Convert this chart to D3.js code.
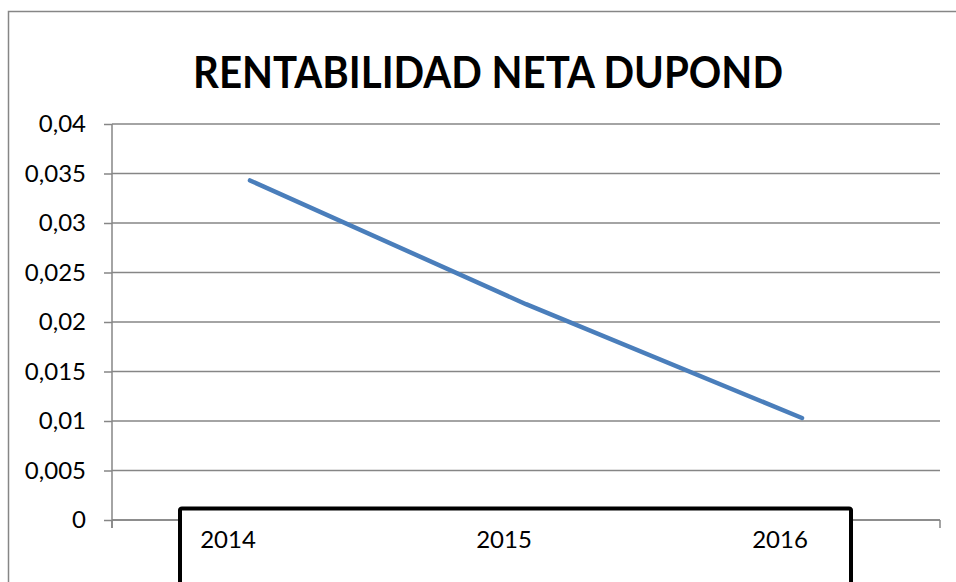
<!DOCTYPE html>
<html>
<head>
<meta charset="utf-8">
<script src="https://cdn.jsdelivr.net/npm/d3@7"></script>
<style>
  html, body { margin: 0; padding: 0; background: #fff; }
  svg { display: block; }
</style>
</head>
<body>
<svg id="chart" width="956" height="582"></svg>
<script>
const title = "RENTABILIDAD NETA DUPOND";
const categories = ["2014", "2015", "2016"];
const values = [0.0343, 0.0218, 0.0103];
const yTicks = [0, 0.005, 0.01, 0.015, 0.02, 0.025, 0.03, 0.035, 0.04];

const svg = d3.select("#chart");
const plot = { left: 112, right: 940, top: 124, bottom: 520 };
const gridColor = "#868686";
const font = "Lato, 'Open Sans', sans-serif";

const locale = d3.formatLocale({ decimal: ",", thousands: ".", grouping: [3], currency: ["", "€"] });
const fmt = locale.format("~g");

const x = d3.scaleBand().domain(categories).range([plot.left, plot.right]);
const y = d3.scaleLinear().domain([0, 0.04]).range([plot.bottom, plot.top]);

// outer chart border
svg.append("rect")
  .attr("x", 8.5).attr("y", 11.5).attr("width", 1000).attr("height", 1000)
  .attr("fill", "#fff").attr("stroke", gridColor).attr("stroke-width", 1.5);

// title
svg.append("text")
  .attr("x", 488).attr("y", 88)
  .attr("text-anchor", "middle")
  .attr("font-family", font).attr("font-weight", "bold")
  .attr("font-size", 43)
  .attr("textLength", 590).attr("lengthAdjust", "spacingAndGlyphs")
  .attr("fill", "#000")
  .text(title);

// gridlines
svg.append("g").selectAll("line").data(yTicks).join("line")
  .attr("x1", plot.left).attr("x2", plot.right)
  .attr("y1", d => y(d)).attr("y2", d => y(d))
  .attr("stroke", gridColor).attr("stroke-width", 1.5);

// y axis
const yAxis = svg.append("g")
  .attr("transform", `translate(${plot.left},0)`)
  .call(d3.axisLeft(y).tickValues(yTicks).tickSize(8).tickPadding(18).tickFormat(fmt));
yAxis.select(".domain").remove();
yAxis.append("line")
  .attr("x1", 0).attr("x2", 0).attr("y1", plot.top).attr("y2", plot.bottom + 8)
  .attr("stroke", gridColor).attr("stroke-width", 1.5);
yAxis.selectAll(".tick line").attr("stroke", gridColor).attr("stroke-width", 1.5);
yAxis.selectAll(".tick text")
  .attr("font-family", font).attr("font-size", 24).attr("fill", "#000");

// x axis line + boundary ticks
const xg = svg.append("g");
xg.append("line")
  .attr("x1", plot.left).attr("x2", plot.right)
  .attr("y1", plot.bottom).attr("y2", plot.bottom)
  .attr("stroke", gridColor).attr("stroke-width", 1.5);
const boundaries = categories.map(c => x(c) + x.bandwidth()).concat([x(categories[0])]);
xg.selectAll("line.tk").data(boundaries).join("line").attr("class", "tk")
  .attr("x1", d => d).attr("x2", d => d)
  .attr("y1", plot.bottom).attr("y2", plot.bottom + 8)
  .attr("stroke", gridColor).attr("stroke-width", 1.5);

// line series
const line = d3.line()
  .x((d, i) => x(categories[i]) + x.bandwidth() / 2)
  .y(d => y(d));
svg.append("path")
  .datum(values)
  .attr("d", line)
  .attr("fill", "none")
  .attr("stroke", "#4A7EBB")
  .attr("stroke-width", 4.5)
  .attr("stroke-linecap", "round")
  .attr("stroke-linejoin", "round");

// black framed box over the category labels
svg.append("rect")
  .attr("x", 180).attr("y", 508.5).attr("width", 671).attr("height", 120)
  .attr("rx", 2)
  .attr("fill", "#fff").attr("stroke", "#000").attr("stroke-width", 4);

// category labels
svg.append("g").selectAll("text").data(categories).join("text")
  .attr("x", d => x(d) + x.bandwidth() / 2 - 22)
  .attr("y", 548)
  .attr("text-anchor", "middle")
  .attr("font-family", font).attr("font-size", 24).attr("fill", "#000")
  .text(d => d);
</script>
</body>
</html>
